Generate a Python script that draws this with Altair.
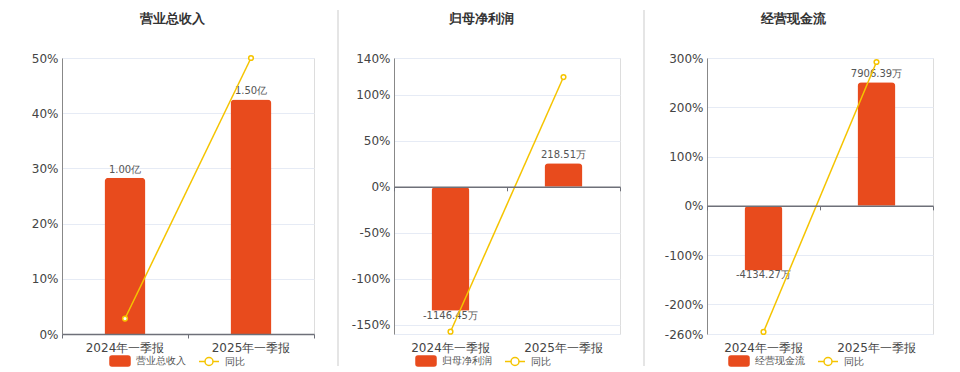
import altair as alt
import pandas as pd

# ---------------- data ----------------
titles = ["营业总收入", "归母净利润", "经营现金流"]
periods = ["2024年一季报", "2025年一季报"]
bar_values = [[1.00, 1.50], [-1146.45, 218.51], [-4134.27, 7906.39]]
bar_labels = [["1.00亿", "1.50亿"], ["-1146.45万", "218.51万"], ["-4134.27万", "7906.39万"]]
yoy_name = "同比"
yoy_values = [[2.8, 50.0], [-157.5, 119.3], [-255.8, 291.9]]
pct_ticks = [[0, 10, 20, 30, 40, 50],
             [-160, -150, -100, -50, 0, 50, 100, 140],
             [-260, -200, -100, 0, 100, 200, 300]]
pct_domains = [[0, 50], [-160, 140], [-260, 300]]
bar_domains = [[0, 1.765], [-1361.7, 1191.5], [-8202, 9464]]

# ---------------- style / layout ----------------
BAR = "#e84b1d"
LINE = "#f5c400"
H = 276
widths = [252, 226, 226]
bar_sizes = [41, 38, 38]
sep_x = [-52, -56, -63]
sep_color = ["#ffffff", "#dddddd", "#dddddd"]
title_x = [110, 87, 86]
legend_x = [47, 21, 21]
RECT_PATH = ("M-0.8,-0.5H0.8Q1,-0.5,1,-0.3V0.3Q1,0.5,0.8,0.5H-0.8"
             "Q-1,0.5,-1,0.3V-0.3Q-1,-0.5,-0.8,-0.5Z")
LINE_PATH = "M-1,0H-0.4M0.4,0H1M0.4,0A0.4,0.4,0,1,1,-0.4,0A0.4,0.4,0,1,1,0.4,0Z"


def panel(i):
    df = pd.DataFrame({
        "period": periods,
        "value": bar_values[i],
        "label": bar_labels[i],
        "yoy": yoy_values[i],
    })
    lo, hi = pct_domains[i]
    zero_off = -H * (0 - lo) / (hi - lo)
    xsc = alt.Scale(domain=periods, paddingInner=0, paddingOuter=0)
    ybar = alt.Scale(domain=bar_domains[i], nice=False, zero=False)
    base = alt.Chart(df)

    sep = alt.Chart(alt.Data(values=[{}])).mark_rule(
        color=sep_color[i], strokeWidth=1.5
    ).encode(x=alt.value(sep_x[i]), y=alt.value(-48), y2=alt.value(308))

    ttl = alt.Chart(alt.Data(values=[{"t": titles[i]}])).mark_text(
        fontSize=13, fontWeight="bold", color="#333333",
        align="center", baseline="middle"
    ).encode(x=alt.value(title_x[i]), y=alt.value(-39), text="t:N")

    bars = base.mark_bar(color=BAR, size=bar_sizes[i], cornerRadiusEnd=4).encode(
        x=alt.X("period:N", scale=xsc, sort=periods, title=None,
                axis=alt.Axis(orient="bottom", offset=zero_off, labels=False,
                              domain=True, ticks=True, tickBand="extent",
                              domainColor="#6e7079", tickColor="#6e7079",
                              domainWidth=1.5, tickSize=4, grid=False, zindex=1)),
        y=alt.Y("value:Q", scale=ybar, axis=None),
    )

    pos = base.transform_filter("datum.value >= 0").mark_text(
        baseline="bottom", dy=-3, fontSize=10, color="#555555"
    ).encode(
        x=alt.X("period:N", scale=xsc, sort=periods, axis=None),
        y=alt.Y("value:Q", scale=ybar, axis=None),
        text="label:N",
    )
    neg = base.transform_filter("datum.value < 0").mark_text(
        baseline="top", dy=0, fontSize=10, color="#555555"
    ).encode(
        x=alt.X("period:N", scale=xsc, sort=periods, axis=None),
        y=alt.Y("value:Q", scale=ybar, axis=None),
        text="label:N",
    )

    line = base.mark_line(
        color=LINE, strokeWidth=1.5,
        point=alt.OverlayMarkDef(filled=True, fill="white", stroke=LINE,
                                 strokeWidth=1.5, size=22),
    ).encode(
        x=alt.X("period:N", scale=xsc, sort=periods, title=None,
                axis=alt.Axis(orient="bottom", domain=False, ticks=False,
                              labelFontSize=12, labelColor="#444444",
                              labelPadding=8, labelAngle=0, grid=False)),
        y=alt.Y("yoy:Q", scale=alt.Scale(domain=[lo, hi], nice=False, zero=False),
                title=None,
                axis=alt.Axis(orient="left", values=pct_ticks[i],
                              labelExpr="datum.value == -160 ? '' : datum.value + '%'",
                              grid=True, gridColor="#e6ebf5", ticks=False,
                              domainColor="#888888", labelFontSize=12,
                              labelColor="#444444", labelPadding=4)),
    )

    names = [titles[i], yoy_name]
    leg = alt.Legend(title=None, orient="none", legendX=legend_x[i], legendY=292,
                     direction="horizontal", symbolSize=400, symbolStrokeWidth=1.5,
                     labelFontSize=10, labelColor="#555555", labelOffset=5,
                     columnPadding=10, padding=0, symbolOpacity=1)
    legend_layer = alt.Chart(pd.DataFrame({"series": names})).mark_point(opacity=0).encode(
        x=alt.value(0), y=alt.value(0),
        fill=alt.Fill("series:N", scale=alt.Scale(domain=names, range=[BAR, "white"]), legend=leg),
        stroke=alt.Stroke("series:N", scale=alt.Scale(domain=names, range=[BAR, LINE]), legend=leg),
        shape=alt.Shape("series:N", scale=alt.Scale(domain=names, range=[RECT_PATH, LINE_PATH]), legend=leg),
    )

    return alt.layer(sep, bars, pos, neg, line, legend_layer, ttl).resolve_scale(
        y="independent"
    ).resolve_axis(x="independent", y="independent").properties(width=widths[i], height=H)


chart = alt.hconcat(panel(0), panel(1), panel(2), spacing=21).resolve_scale(
    fill="independent", stroke="independent", shape="independent"
).resolve_legend(
    fill="independent", stroke="independent", shape="independent"
).properties(padding=0).configure_view(stroke=None).configure(font="DejaVu Sans")

chart.save("out.html", embed_options={"renderer": "svg", "actions": False})
